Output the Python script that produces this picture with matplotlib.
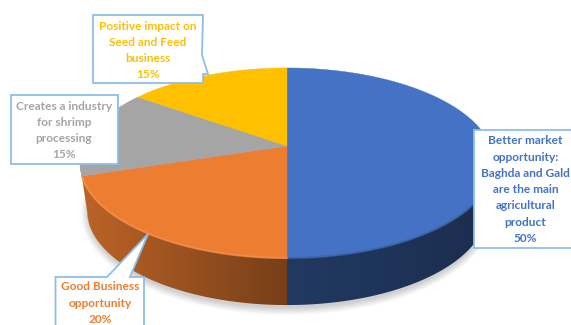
import numpy as np
from matplotlib import pyplot as plt
from matplotlib.colors import to_rgb
from matplotlib.patches import Ellipse, Polygon

# slices, clockwise from 12 o'clock
values = [50, 20, 15, 15]
names = ["Better market\nopportunity:\nBaghda and Gald\nare the main\nagricultural\nproduct",
         "Good Business\nopportunity",
         "Creates a industry\nfor shrimp\nprocessing",
         "Positive impact on\nSeed and Feed\nbusiness"]
colors = ["#4472C4", "#ED7D31", "#A5A5A5", "#FFC000"]

# pie geometry in pixels
apex_x, apex_y = 287, 146
scale_x, scale_y, persp = 203.7, 92.0, 0.179
top_cy, bot_cy = 163, 210
bot_ratio = 200 / 207
wall_start = np.arccos(-0.17)

# callout boxes: x0, y0, x1, y1, text x, first line y, tail points
boxes = [(474, 130, 590, 248, 525.5, 141, None),
         (55.5, 277, 144, 335, 100, 287, [(107, 277), (148, 234), (130, 277)]),
         (11, 95, 118, 164, 64, 106, None),
         (93, 15, 203, 83, 148, 26, [(202, 55), (208, 74), (203, 74)])]
line_step = 16.2
border = "#8FBDE8"


def project(t):
    # t is the clockwise angle from the top of the disc
    x, y = np.sin(t), np.cos(t)
    w = 1 + persp * y
    return apex_x + scale_x * x / w, apex_y - scale_y * y / w


def project_bottom(t):
    x, y = project(t)
    return apex_x + (x - apex_x) * bot_ratio, y - top_cy + bot_cy


fig = plt.figure(figsize=(5.71, 3.25), dpi=100)
ax = fig.add_axes([0, 0, 1, 1])

plt.rcParams["font.family"] = ["Lato", "DejaVu Sans"]

# soft shadow under the disc
for grow in range(8):
    ax.add_patch(Ellipse((287, bot_cy + 3), 2 * (199 + grow), 2 * (95 + grow),
                         fc="black", ec="none", alpha=0.025, zorder=1))

edges = np.cumsum([0] + values) / sum(values) * 2 * np.pi

# side wall: a left to right gradient clipped to the visible part of each slice
col_x = np.arange(571) + 0.5
factor = np.interp(col_x, [80, 287, 494], [0.8, 0.5, 0.4])
for i in range(len(values)):
    lo = max(edges[i], wall_start)
    hi = min(edges[i + 1], 2 * np.pi - wall_start)
    if hi <= lo:
        continue
    ts = np.linspace(lo, hi, 200)
    xs, ys = project(ts)
    xb, yb = project_bottom(ts[::-1])
    wall = Polygon(list(zip(xs, ys)) + list(zip(xb, yb)), fc="none", ec="none", transform=ax.transData)
    ax.add_patch(wall)
    grad = factor[None, :, None] * np.array(to_rgb(colors[i]))[None, None, :]
    im = ax.imshow(grad, extent=(0, 571, 325, 0), aspect="auto", zorder=2, interpolation="bilinear")
    im.set_clip_path(wall)

ax.set_xlim(0, 571)
ax.set_ylim(325, 0)
ax.axis("off")

# top face
for i in range(len(values)):
    ts = np.linspace(edges[i], edges[i + 1], 200)
    xs, ys = project(ts)
    pts = [(apex_x, apex_y)] + list(zip(xs, ys))
    ax.add_patch(Polygon(pts, fc=colors[i], ec=colors[i], lw=0.3, zorder=3))

# soft edge where the top meets the wall, lighter on the orange slice
rim = {0: "#39609F", 1: "#F79150"}
for i, c in rim.items():
    ts = np.linspace(max(edges[i], wall_start), min(edges[i + 1], 2 * np.pi - wall_start), 200)
    xs, ys = project(ts)
    ax.plot(xs, ys, color=c, lw=1.5, alpha=0.7, zorder=4, solid_capstyle="round")

# callouts
for i in range(len(values)):
    x0, y0, x1, y1, tx, ty, tail = boxes[i]
    outline = [(x0, y0), (x1, y0), (x1, y1), (x0, y1)]
    if tail is not None and tail[0][1] == y0:
        # tail on the top edge
        outline = [(x0, y0)] + tail + [(x1, y0), (x1, y1), (x0, y1)]
    elif tail is not None:
        # tail on the right edge
        outline = [(x0, y0), (x1, y0)] + tail + [(x1, y1), (x0, y1)]
    ax.add_patch(Polygon(outline, fc="white", ec=border, lw=1.3, joinstyle="miter", zorder=5))
    lines = names[i].split("\n") + [f"{values[i]}%"]
    for n, line in enumerate(lines):
        ax.text(tx, ty + n * line_step, line, color=colors[i], fontsize=8.6, fontweight="bold",
                ha="center", va="center", zorder=6)

fig.savefig("out.png", dpi=100)
